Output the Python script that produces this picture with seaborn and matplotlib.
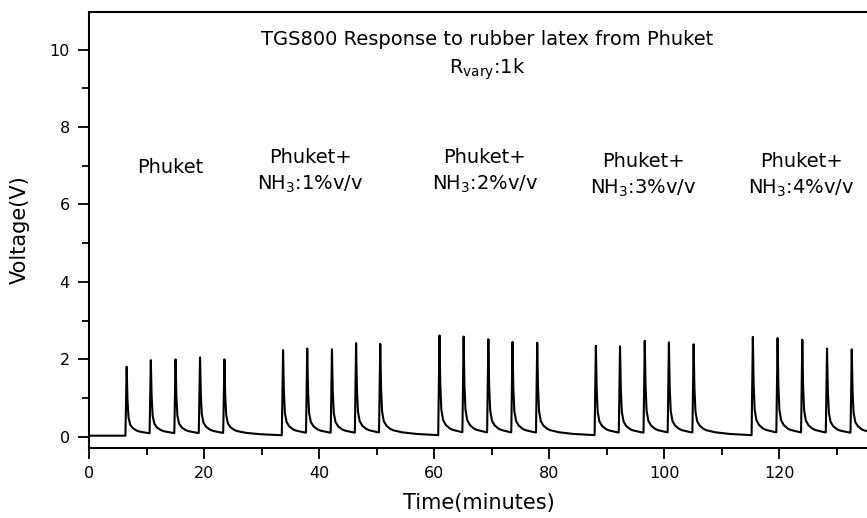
import numpy as np
import pandas as pd
import matplotlib
matplotlib.use("Agg")
import matplotlib.pyplot as plt
import seaborn as sns
from matplotlib.ticker import MultipleLocator

# ---- data ----
peak_times = [6.5, 10.7, 15.0, 19.25, 23.5,
              33.7, 37.9, 42.2, 46.4, 50.6,
              60.9, 65.1, 69.4, 73.6, 77.9,
              88.1, 92.3, 96.6, 100.8, 105.1,
              115.4, 119.7, 124.0, 128.3, 132.6]
peak_heights = [1.81, 1.98, 2.00, 2.13, 2.00,
                2.24, 2.28, 2.26, 2.42, 2.40,
                2.62, 2.59, 2.52, 2.45, 2.43,
                2.35, 2.34, 2.48, 2.44, 2.39,
                2.58, 2.55, 2.51, 2.28, 2.26]
baseline_v = 0.03
# response profile of one pulse (minutes after peak -> fraction of peak above baseline)
pulse_offset = [-0.22, 0.0, 0.12, 0.3, 0.6, 1.05, 1.7, 2.2, 3.65, 6.0, 10.0, 30.0]
pulse_frac = [0.0, 1.0, 0.55, 0.27, 0.16, 0.11, 0.075, 0.06, 0.038, 0.02, 0.006, 0.0]

group_labels = ["Phuket", "Phuket+\nNH$_3$:1%v/v", "Phuket+\nNH$_3$:2%v/v",
                "Phuket+\nNH$_3$:3%v/v", "Phuket+\nNH$_3$:4%v/v"]
group_label_x = [14.1, 38.5, 68.8, 96.3, 123.8]
group_label_y = [6.95, 6.85, 6.85, 6.75, 6.75]

title_text = "TGS800 Response to rubber latex from Phuket"
subtitle_text = "R$_{vary}$:1k"

# ---- build trace ----
t = np.arange(0, 136.0, 0.02)
v = np.full_like(t, baseline_v)
for tp, h in zip(peak_times, peak_heights):
    frac = np.interp(t - tp, pulse_offset, pulse_frac, left=0.0, right=0.0)
    v = np.maximum(v, baseline_v + (h - baseline_v) * frac)
df = pd.DataFrame({"Time": t, "Voltage": v})

# ---- plot ----
sns.set_style("ticks")
plt.rcParams["font.family"] = ["DejaVu Sans"]
plt.rcParams["mathtext.default"] = "regular"
plt.rcParams["text.color"] = "black"
plt.rcParams["axes.labelcolor"] = "black"

fig = plt.figure(figsize=(8.67, 5.18), dpi=100)
px_per_min = 5.75
xmax = (867 - 89.3) / px_per_min + 0.3
ax = fig.add_axes([89.3 / 867, 1 - 447.7 / 518, xmax * px_per_min / 867, (447.7 - 12) / 518])

sns.lineplot(data=df, x="Time", y="Voltage", ax=ax, color="black", linewidth=1.5,
             estimator=None, sort=False)

ax.set_xlim(0, xmax)
ax.set_ylim(-0.28, 10.97)
ax.xaxis.set_major_locator(MultipleLocator(20))
ax.xaxis.set_minor_locator(MultipleLocator(10))
ax.yaxis.set_major_locator(MultipleLocator(2))
ax.yaxis.set_minor_locator(MultipleLocator(1))
ax.tick_params(which="major", direction="out", length=8, width=1.3, labelsize=11.5,
               colors="black", pad=6)
ax.tick_params(which="minor", direction="out", length=5, width=1.3, colors="black")
ax.tick_params(axis="x", which="major", pad=5)
for side in ["left", "bottom", "top"]:
    ax.spines[side].set_visible(True)
    ax.spines[side].set_linewidth(1.5)
    ax.spines[side].set_color("black")
ax.spines["right"].set_visible(False)

ax.set_xlabel("Time(minutes)", fontsize=15, labelpad=9, color="black")
ax.set_ylabel("Voltage(V)", fontsize=15, labelpad=14, color="black")

ax.text(69.2, 10.25, title_text, ha="center", va="center", fontsize=14, color="black")
ax.text(69.2, 9.5, subtitle_text, ha="center", va="center", fontsize=14, color="black")
for lx, ly, lab in zip(group_label_x, group_label_y, group_labels):
    ax.text(lx, ly, lab, ha="center", va="center", fontsize=14, linespacing=1.45,
            color="black")

fig.savefig("out.png", dpi=100)
